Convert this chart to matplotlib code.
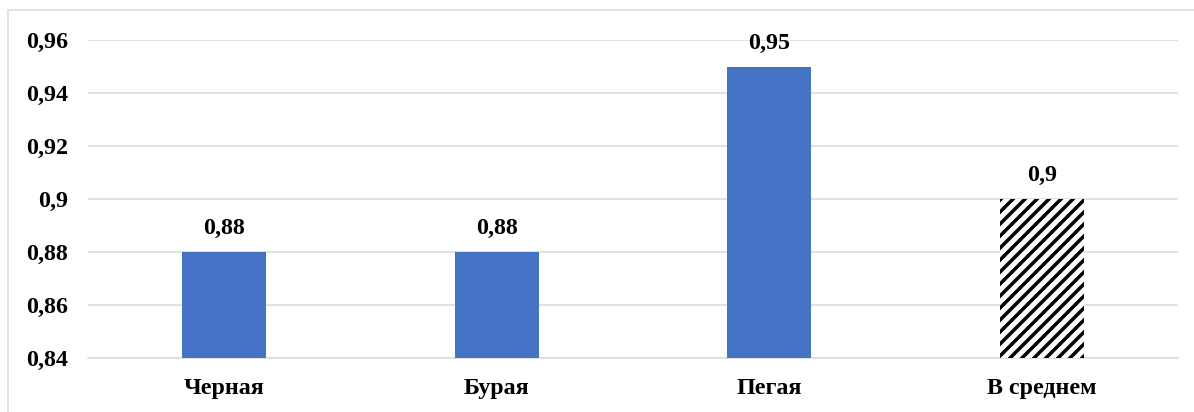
import matplotlib.pyplot as plt
from matplotlib.patches import Rectangle

categories = ["Черная", "Бурая", "Пегая", "В среднем"]
values = [0.88, 0.88, 0.95, 0.90]
value_labels = ["0,88", "0,88", "0,95", "0,9"]
y_ticks = [0.84, 0.86, 0.88, 0.90, 0.92, 0.94, 0.96]
y_tick_labels = ["0,84", "0,86", "0,88", "0,9", "0,92", "0,94", "0,96"]

DPI = 72
W, H = 1194, 412
plt.rcParams['font.family'] = ['Liberation Serif', 'DejaVu Serif']
plt.rcParams['font.weight'] = 'bold'
plt.rcParams['hatch.linewidth'] = 3.5

fig = plt.figure(figsize=(W / DPI, H / DPI), dpi=DPI)
ax = fig.add_axes([88 / W, 54 / H, 1090 / W, 318 / H])

grid_color = "#d9d9d9"
# outer frame of the chart area
fig.patches.append(Rectangle((8 / W, -0.1), 1.2, (H - 10) / H + 0.1,
                             transform=fig.transFigure, fill=False,
                             edgecolor=grid_color, linewidth=1.5))

x = range(len(categories))
colors = ["#4472C4", "#4472C4", "#4472C4", "white"]
bars = ax.bar(x, [v - 0.84 for v in values], bottom=0.84, width=0.31,
              color=colors, zorder=3)
bars[-1].set_hatch("//")
bars[-1].set_edgecolor("black")
bars[-1].set_linewidth(0)

for xi, v, lab in zip(x, values, value_labels):
    ax.annotate(lab, (xi, v), xytext=(0, 13), textcoords="offset points",
                ha="center", va="bottom", fontsize=24, fontweight="bold")

ax.set_ylim(0.84, 0.96)
ax.set_xlim(-0.5, len(categories) - 0.5)
ax.set_yticks(y_ticks)
ax.set_yticklabels(y_tick_labels)
ax.set_xticks(list(x))
ax.set_xticklabels(categories)
ax.tick_params(axis="y", length=0, pad=20, labelsize=24)
ax.tick_params(axis="x", length=0, pad=20, labelsize=24)
ax.grid(axis="y", color=grid_color, linewidth=1.5, zorder=0)
for s in ["top", "right", "left"]:
    ax.spines[s].set_visible(False)
ax.spines["bottom"].set_color(grid_color)
ax.spines["bottom"].set_linewidth(1.5)

fig.savefig("out.png", dpi=DPI)
